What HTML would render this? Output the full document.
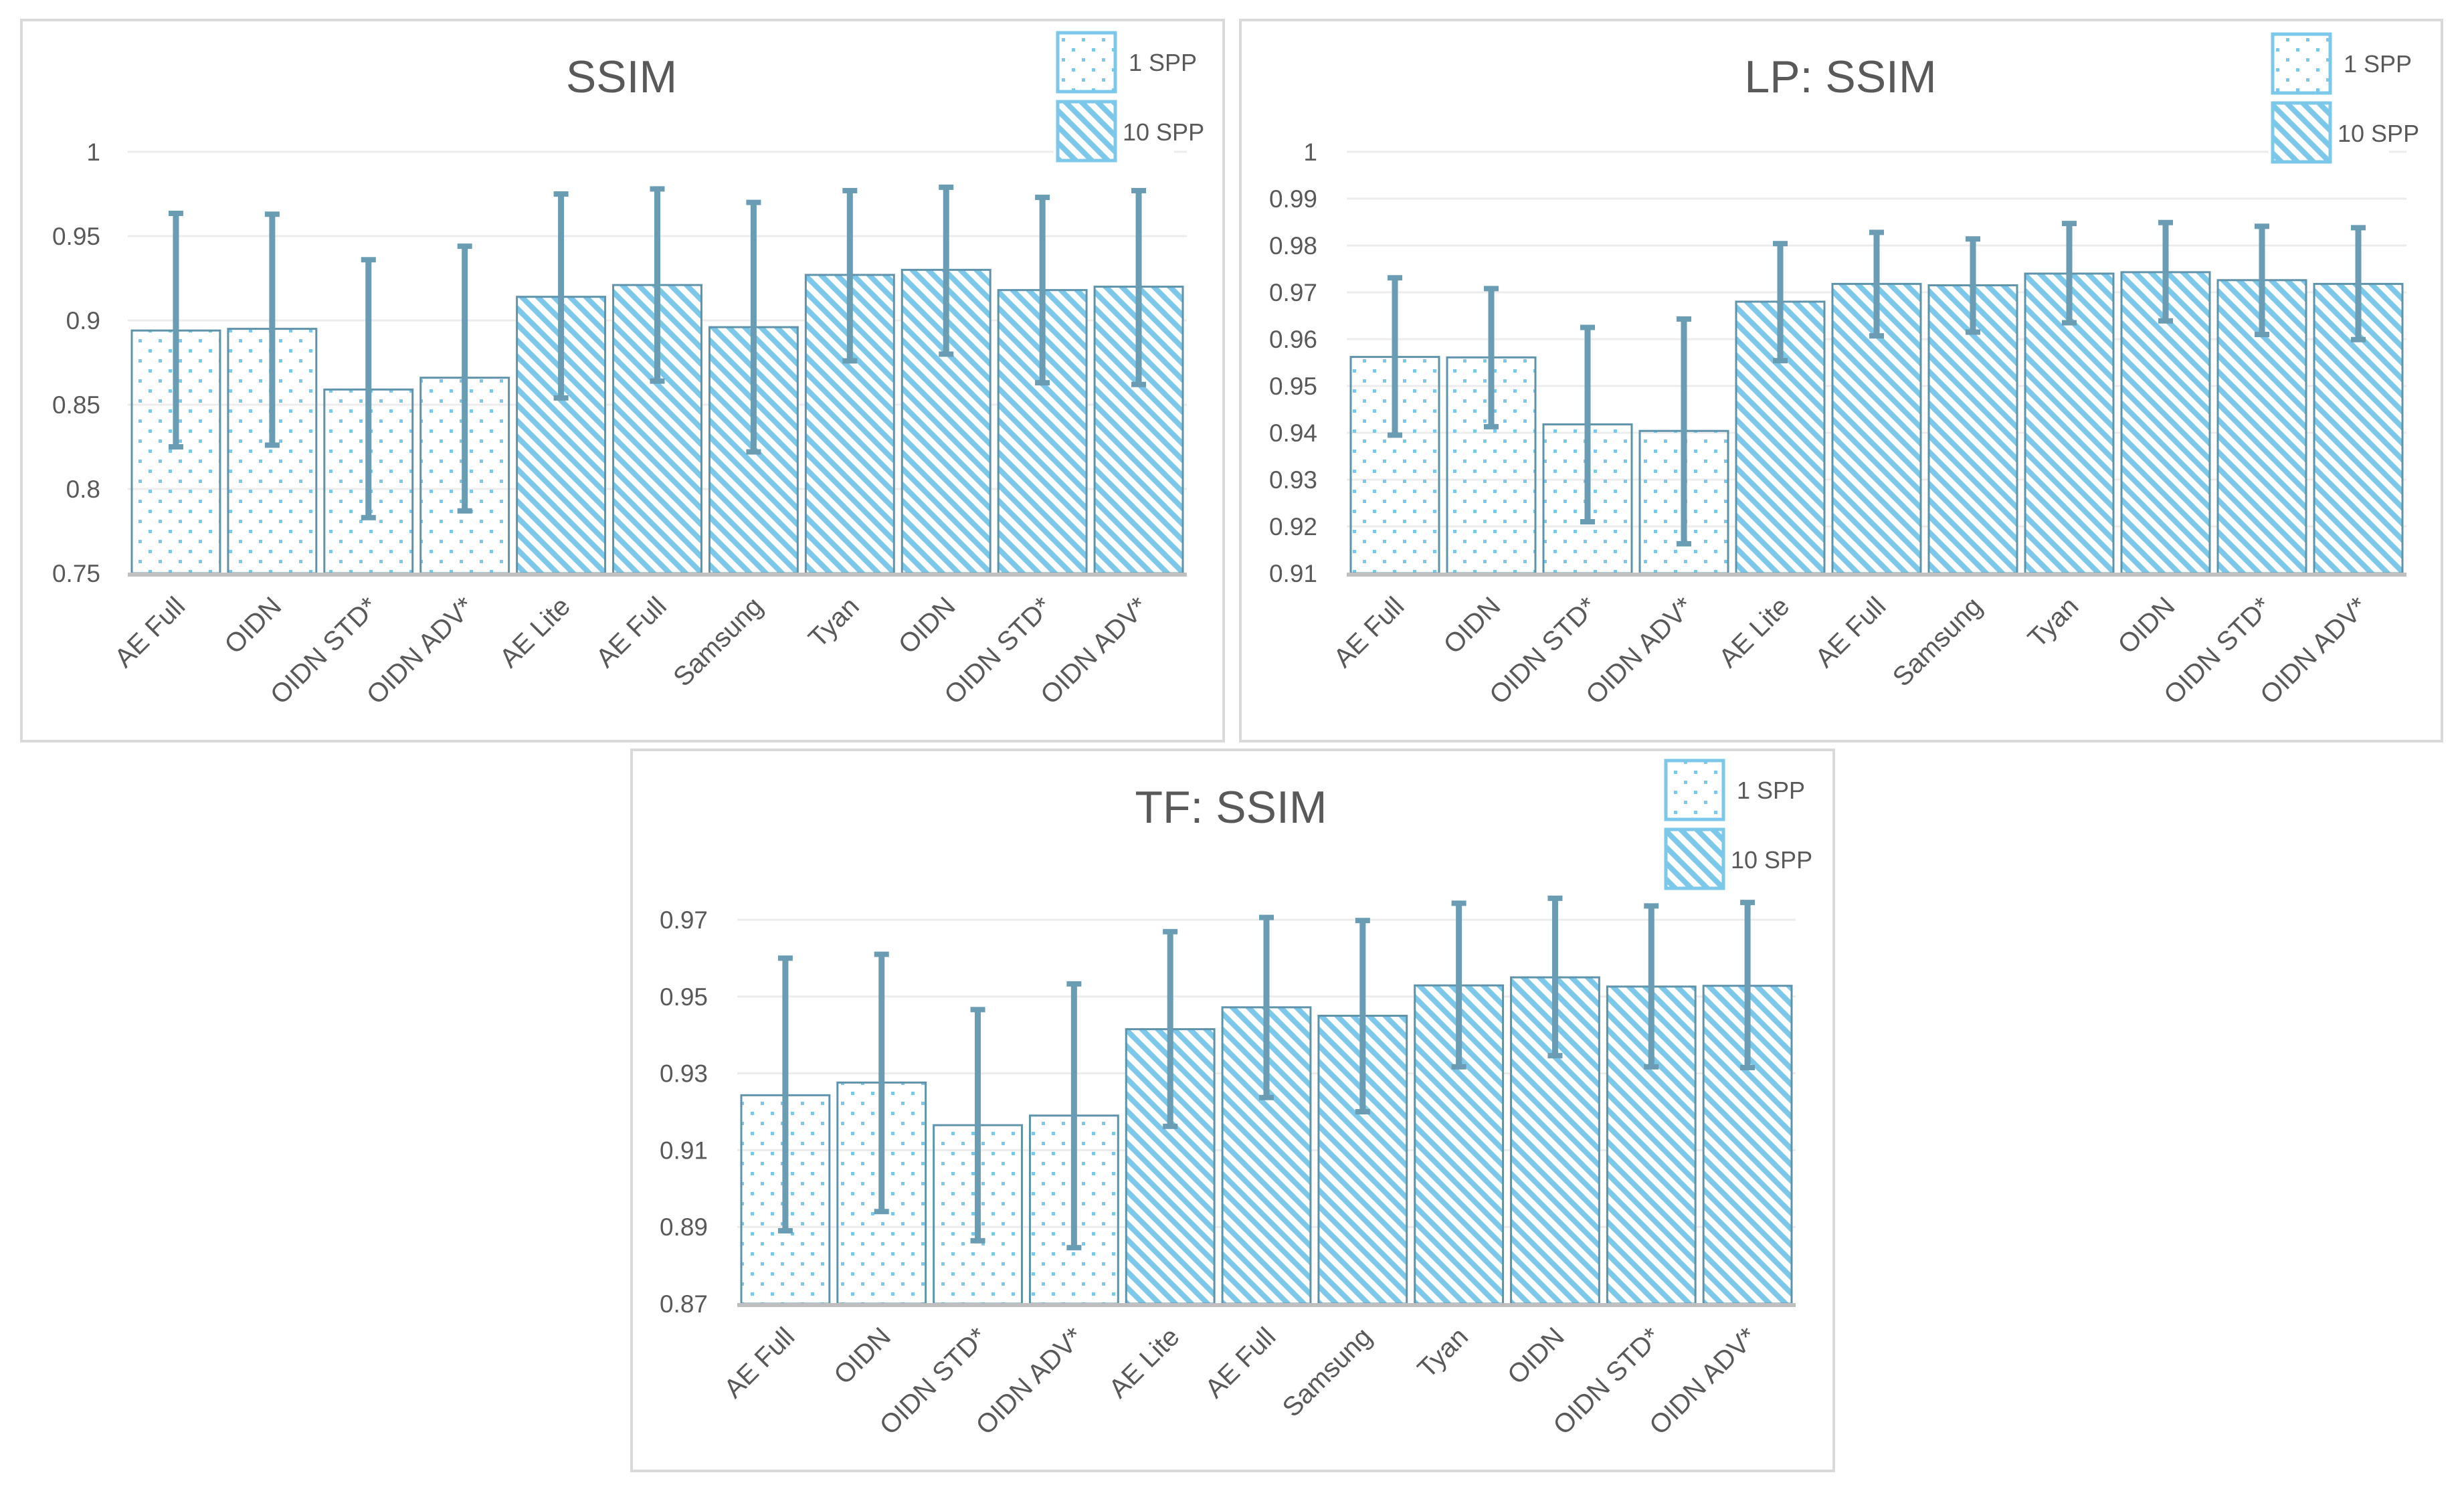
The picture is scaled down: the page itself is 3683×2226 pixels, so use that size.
<!DOCTYPE html>
<html><head><meta charset="utf-8"><style>
html,body{margin:0;padding:0;background:#fff;}
svg{display:block;font-family:"Liberation Sans",sans-serif;}
</style></head><body>
<svg id="fig" width="3683" height="2226" viewBox="0 0 3683 2226" xmlns="http://www.w3.org/2000/svg">
<defs>
<pattern id="dots" patternUnits="userSpaceOnUse" width="30" height="30">
<rect x="12" y="12" width="5" height="5" fill="#7cc8ea"/>
<rect x="-3" y="-3" width="5" height="5" fill="#7cc8ea"/>
<rect x="27" y="-3" width="5" height="5" fill="#7cc8ea"/>
<rect x="-3" y="27" width="5" height="5" fill="#7cc8ea"/>
<rect x="27" y="27" width="5" height="5" fill="#7cc8ea"/>
</pattern>
<pattern id="hatch" patternUnits="userSpaceOnUse" width="24" height="24">
<rect width="24" height="24" fill="#fff"/>
<path d="M-6,-6 L30,30 M-6,18 L6,30 M18,-6 L30,6" stroke="#7cc8ea" stroke-width="8"/>
</pattern>
</defs>
</svg>
<script>
const categories = ["AE Full","OIDN","OIDN STD*","OIDN ADV*","AE Lite","AE Full","Samsung","Tyan","OIDN","OIDN STD*","OIDN ADV*"];
const sppGroup = [1,1,1,1,10,10,10,10,10,10,10];

const ssimValues = [0.894,0.895,0.859,0.866,0.914,0.921,0.896,0.927,0.930,0.918,0.920];
const ssimHigh = [0.9635,0.963,0.936,0.944,0.975,0.978,0.970,0.977,0.979,0.973,0.977];
const ssimLow = [0.825,0.826,0.783,0.787,0.854,0.864,0.822,0.876,0.880,0.863,0.862];
const ssimTicks = [0.75,0.8,0.85,0.9,0.95,1];
const ssimTickLabels = ["0.75","0.8","0.85","0.9","0.95","1"];

const lpValues = [0.9562,0.9561,0.9418,0.9404,0.968,0.9718,0.9715,0.974,0.9743,0.9726,0.9718];
const lpHigh = [0.9731,0.9708,0.9625,0.9643,0.9804,0.9828,0.9814,0.9847,0.9849,0.9841,0.9838];
const lpLow = [0.9395,0.9413,0.921,0.9163,0.9554,0.9607,0.9615,0.9635,0.9639,0.961,0.9599];
const lpTicks = [0.91,0.92,0.93,0.94,0.95,0.96,0.97,0.98,0.99,1];
const lpTickLabels = ["0.91","0.92","0.93","0.94","0.95","0.96","0.97","0.98","0.99","1"];

const tfValues = [0.9243,0.9276,0.9165,0.919,0.9415,0.9472,0.945,0.9529,0.955,0.9526,0.9528];
const tfHigh = [0.960,0.961,0.9466,0.9533,0.9669,0.9706,0.9698,0.9743,0.9756,0.9736,0.9745];
const tfLow = [0.889,0.894,0.8864,0.8846,0.9162,0.9237,0.920,0.9317,0.9346,0.9317,0.9315];
const tfTicks = [0.87,0.89,0.91,0.93,0.95,0.97];
const tfTickLabels = ["0.87","0.89","0.91","0.93","0.95","0.97"];

const NS="http://www.w3.org/2000/svg";
const svg=document.getElementById('fig');
function mk(tag,attrs,parent){const e=document.createElementNS(NS,tag);for(const k in attrs)e.setAttribute(k,attrs[k]);parent.appendChild(e);return e;}

function drawChart(cfg,vals,hi,lo,ticks,tickLabels){
  const g=mk('g',{},svg);
  
  
  const panel=mk('rect',{x:cfg.px,y:cfg.py,width:cfg.pw,height:cfg.ph,fill:'#fff',stroke:'#d9d9d9','stroke-width':4},g);
  
  
  const yMin=ticks[0], yMax=ticks[ticks.length-1];
  const yS=v=>cfg.yBot-(v-yMin)/(yMax-yMin)*(cfg.yBot-cfg.yTop);
  const slot=(cfg.xR-cfg.xL)/categories.length;
  const xS=i=>cfg.xL+slot*i;
  ticks.forEach((t,i)=>{
    if(i>0){const gl=mk('line',{x1:cfg.xL,x2:cfg.xR,y1:yS(t),y2:yS(t),stroke:'#ececec','stroke-width':3},g);
    
    }
    const tl=mk('text',{x:cfg.tickX,y:yS(t)+13,'text-anchor':'end','font-size':37,fill:'#595959'},g);
    tl.textContent=tickLabels[i];
    
    
  });
  categories.forEach((c,i)=>{
    const x0=xS(i)+6, w=slot-12, top=yS(vals[i]);
    const bar=mk('rect',{x:x0,y:top,width:w,height:cfg.yBot-top,fill:sppGroup[i]===1?'url(#dots)':'url(#hatch)',stroke:'#5f93ab','stroke-width':3},g);
    
    
  });
  const ax=mk('line',{x1:cfg.xL,x2:cfg.xR,y1:cfg.yBot+2,y2:cfg.yBot+2,stroke:'#bfbfbf','stroke-width':6},g);
  
  
  categories.forEach((c,i)=>{
    const cx=xS(i)+slot/2, yh=yS(hi[i]), yl=yS(lo[i]);
    const eg=mk('g',{stroke:'#6a9cb3',fill:'#6a9cb3'},g);
    
    
    mk('line',{x1:cx,x2:cx,y1:yh,y2:yl,'stroke-width':9},eg);
    mk('rect',{x:cx-11,y:yh-4,width:22,height:8,stroke:'none'},eg);
    mk('rect',{x:cx-11,y:yl-4,width:22,height:8,stroke:'none'},eg);
    const lb=mk('text',{x:0,y:0,'text-anchor':'end','font-size':40,fill:'#595959',transform:`translate(${cx+16},${cfg.yBot+52}) rotate(-45)`},g);
    lb.textContent=c;
    
    
  });
  const tt=mk('text',{x:cfg.titleX,y:cfg.titleY+24,'text-anchor':'middle','font-size':68,fill:'#595959'},g);
  tt.textContent=cfg.title;
  
  
  const lg=mk('g',{},g);
  
  
  mk('rect',{x:cfg.lgX-6,y:cfg.lgY-4,width:180,height:200,fill:'#fff'},lg);
  const b1=mk('rect',{x:cfg.lgX,y:cfg.lgY,width:86,height:88,fill:'url(#dots)',stroke:'#7cc8ea','stroke-width':5},lg);
  
  
  const b2=mk('rect',{x:cfg.lgX,y:cfg.lgY+103,width:86,height:88,fill:'url(#hatch)',stroke:'#7cc8ea','stroke-width':5},lg);
  
  
  const t1=mk('text',{x:cfg.lgX+106,y:cfg.lgY+57,'font-size':36,fill:'#595959'},lg);
  t1.textContent='1 SPP';
  
  
  const t2=mk('text',{x:cfg.lgX+97,y:cfg.lgY+161,'font-size':36,fill:'#595959'},lg);
  t2.textContent='10 SPP';
  
  
}

drawChart({name:'ssim-chart',title:'SSIM',px:32,py:30,pw:1797,ph:1078,xL:191,xR:1774,yTop:227,yBot:857,tickX:150,titleX:929,titleY:114,lgX:1581,lgY:49},ssimValues,ssimHigh,ssimLow,ssimTicks,ssimTickLabels);
drawChart({name:'lp-ssim-chart',title:'LP: SSIM',px:1854,py:30,pw:1796,ph:1078,xL:2013,xR:3597,yTop:227,yBot:857,tickX:1969,titleX:2751,titleY:114,lgX:3397,lgY:51},lpValues,lpHigh,lpLow,lpTicks,lpTickLabels);
drawChart({name:'tf-ssim-chart',title:'TF: SSIM',px:944,py:1121,pw:1797,ph:1078,xL:1102,xR:2684,yTop:1375,yBot:1949,tickX:1058,titleX:1840,titleY:1206,lgX:2490,lgY:1137},tfValues,tfHigh,tfLow,tfTicks,tfTickLabels);
</script>
</body></html>
